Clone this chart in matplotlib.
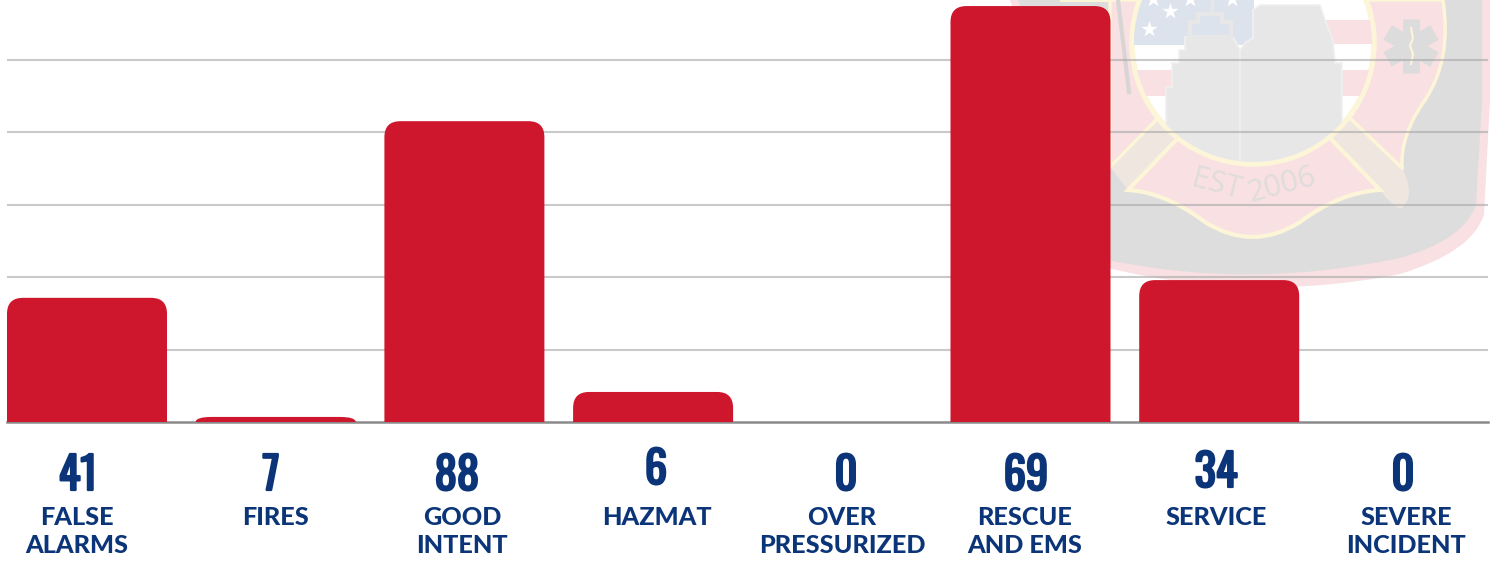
import numpy as np
import matplotlib
matplotlib.use("Agg")
import matplotlib.pyplot as plt
import matplotlib.patheffects as pe
from matplotlib.patches import Polygon, Circle, PathPatch, Rectangle
from matplotlib.path import Path
from matplotlib import font_manager as fm

# data
categories = ["FALSE\nALARMS", "FIRES", "GOOD\nINTENT", "HAZMAT", "OVER\nPRESSURIZED",
              "RESCUE\nAND EMS", "SERVICE", "SEVERE\nINCIDENT"]
shown_values = ["41", "7", "88", "6", "0", "69", "34", "0"]
bar_heights = [34.3, 1.4, 83.1, 8.3, 0, 114.9, 39.2, 0]
grid_values = [20, 40, 60, 80, 100]

RED = "#ce172d"
NAVY = "#0b3578"
W, H = 1495, 561

# text placement, in pixels
num_x = [78, 271, 457, 656, 846, 1026, 1216, 1403]
num_base = [490, 490, 490, 484, 490, 490, 487, 490]
lab_x = [77, 276, 462, 657, 842, 1025, 1216, 1406]

names = {f.name for f in fm.fontManager.ttflist}
num_font = next((n for n in ["Oswald", "Barlow Condensed", "DejaVu Sans"] if n in names), "DejaVu Sans")

fig = plt.figure(figsize=(W / 100, H / 100), dpi=100)

# washed out logo behind the chart
bg = fig.add_axes([0, 0, 1, 1], zorder=0)
bg.set_xlim(0, W)
bg.set_ylim(H, 0)
bg.axis("off")

PINK = "#f8e0e3"
GREY = "#dddddd"
YEL = "#fdf5d8"
BAND = "#efe6e0"


def curve(start, segs, **kw):
    # segs: plain point = line, (ctrl, end) pair = quadratic
    verts, codes = [start], [Path.MOVETO]
    for s in segs:
        if len(s) == 2 and np.ndim(s[0]) == 1:
            verts += [s[0], s[1]]
            codes += [Path.CURVE3, Path.CURVE3]
        else:
            verts.append(s)
            codes.append(Path.LINETO)
    return bg.add_patch(PathPatch(Path(verts, codes), **kw))


# outer shield and grey shadow
curve((1010, 0), [(1100, 266), ((1250, 304), (1400, 274)), ((1472, 252), (1484, 215)), (1490, 100), (1490, 0), (1010, 0)],
      fc=PINK, ec="none", zorder=1)
curve((1018, 0), [(1108, 260), ((1250, 290), (1400, 258)), ((1464, 240), (1476, 205)), (1482, 100), (1482, 0), (1018, 0)],
      fc=GREY, ec="none", zorder=2)

# upper part of the cross
curve((1060, 0), [(1110, 0), (1110, 165), (1253, 190), (1402, 168), ((1400, 135), (1425, 100)),
                  ((1452, 60), (1443, 0)), (1060, 0)],
      fc=PINK, ec=YEL, lw=2.5, zorder=3)
# lower scroll
curve((1178, 138), [(1128, 190), ((1165, 192), (1205, 222)), ((1253, 252), (1300, 222)), ((1340, 192), (1380, 190)),
                    (1330, 138), (1178, 138)],
      fc=PINK, ec=YEL, lw=3, zorder=3.2)

# crossed tool handles
bg.add_patch(Polygon([(1158, 118), (1178, 138), (1128, 190), (1110, 167)], fc=BAND, ec="none", zorder=3.1))
bg.plot([1158, 1110], [118, 167], color=YEL, lw=2.5, zorder=3.1)
curve((1350, 118), [(1402, 168), ((1416, 195), (1402, 208)), ((1395, 210), (1380, 190)), (1330, 138), (1350, 118)],
      fc=BAND, ec="none", zorder=3.1)
bg.plot([1350, 1402], [118, 168], color=YEL, lw=2.5, zorder=3.1)
bg.plot([1118, 1129], [0, 92], color="#d9d5d5", lw=3, zorder=3.1)

# ring with flag inside
bg.add_patch(Circle((1253, 43), 121, fc="white", ec=YEL, lw=4, zorder=4))
clip = Circle((1253, 43), 119, transform=bg.transData)
for y0, dy in [(20, 24), (70, 26)]:
    r = bg.add_patch(Rectangle((1130, y0), 250, dy, fc=PINK, ec="none", zorder=4.1))
    r.set_clip_path(clip)
r = bg.add_patch(Rectangle((1130, -2), 124, 47, fc="#dde3ed", ec="none", zorder=4.2))
r.set_clip_path(clip)
bg.scatter([1170, 1149, 1153, 1190, 1232], [11, 29, -1, -1, -1], marker="*", s=150, c="white",
           linewidths=0, zorder=4.3)

# towers
tower_l = [(1166, 170), (1166, 87), (1172, 87), (1172, 63), (1179, 63), (1179, 50), (1185, 50), (1185, 37),
           (1233, 37), (1240, 50), (1240, 170)]
tower_r = [(1240, 170), (1240, 50), (1245, 43), (1253, 38), (1253, 10), (1260, 5), (1320, 5), (1325, 20),
           (1333, 40), (1335, 63), (1342, 63), (1342, 170)]
for t in [tower_l, tower_r]:
    p = bg.add_patch(Polygon(t, fc="#e7e7e7", ec="#f0f0f0", lw=1.2, zorder=4.5))
    p.set_clip_path(clip)
bg.add_patch(Polygon([(1190, 37), (1190, 22), (1198, 22), (1198, 14), (1222, 14), (1222, 22), (1231, 22), (1231, 37)],
                     fc="none", ec="#e7e7e7", lw=3, zorder=4.5))
bg.plot([1212, 1212], [0, 14], color="#e7e7e7", lw=2.5, zorder=4.5)

# star of life
for a in [0, 60, 120]:
    t = np.radians(a)
    dx, dy = 27 * np.sin(t), 27 * np.cos(t)
    bg.plot([1411 - dx, 1411 + dx], [46 - dy, 46 + dy], color="#dcdcdc", lw=12, solid_capstyle="butt", zorder=5)
bg.plot([1411, 1413, 1410, 1413, 1411], [28, 38, 46, 54, 64], color=YEL, lw=1.5, zorder=5.1)

bg.text(1217, 185, "EST", fontsize=22, color="#e0dcdc", rotation=-15, ha="center", va="center",
        family="Open Sans", zorder=5)
bg.text(1282, 185, "2006", fontsize=22, color="#e0dcdc", rotation=15, ha="center", va="center",
        family="Open Sans", zorder=5)

# chart, bottom of the axes sits on the baseline
step = 188.7
ax = fig.add_axes([7 / W, (H - 422) / H, (1488 - 7) / W, 422 / H], zorder=1)
ax.patch.set_alpha(0)
ax.set_xlim(-80 / step, (1488 - 87) / step)
ax.set_ylim(0, 422 / 3.62)
for s in ax.spines.values():
    s.set_visible(False)
ax.set_xticks([])
ax.set_yticks(grid_values)
ax.tick_params(left=False, labelleft=False)
ax.grid(axis="y", color="#a6a6a6", alpha=0.6, lw=1.5, zorder=1)
ax.set_axisbelow(True)
ax.axhline(0, color="#8a8a8a", lw=1.8, zorder=1.5, clip_on=False)


def rounded_bar(x, h, width=160 / step, rx=16 / step, ry=16 / 3.62):
    if h <= 0:
        return
    ry = min(ry, h)
    l, r = x - width / 2, x + width / 2
    verts = [(l, 0), (l, h - ry), (l, h), (l + rx, h), (r - rx, h), (r, h), (r, h - ry), (r, 0), (l, 0)]
    codes = [Path.MOVETO, Path.LINETO, Path.CURVE3, Path.CURVE3, Path.LINETO,
             Path.CURVE3, Path.CURVE3, Path.LINETO, Path.CLOSEPOLY]
    ax.add_patch(PathPatch(Path(verts, codes), fc=RED, ec="none", zorder=3))


for i, h in enumerate(bar_heights):
    rounded_bar(i, h)

# numbers and labels under the bars, the stroke thickens fonts that stop short of the weight
for i, (num, lab) in enumerate(zip(shown_values, categories)):
    fig.text(num_x[i] / W, 1 - num_base[i] / H, num, fontsize=32, fontweight="bold", color=NAVY,
             family=num_font, stretch="condensed", ha="center", va="baseline",
             path_effects=[pe.withStroke(linewidth=1.6, foreground=NAVY)])
    for j, line in enumerate(lab.split("\n")):
        fig.text(lab_x[i] / W, 1 - (525 + 28 * j) / H, line, fontsize=18.2, fontweight=900,
                 color=NAVY, family="Lato", ha="center", va="baseline")

fig.savefig("out.png", dpi=100)
